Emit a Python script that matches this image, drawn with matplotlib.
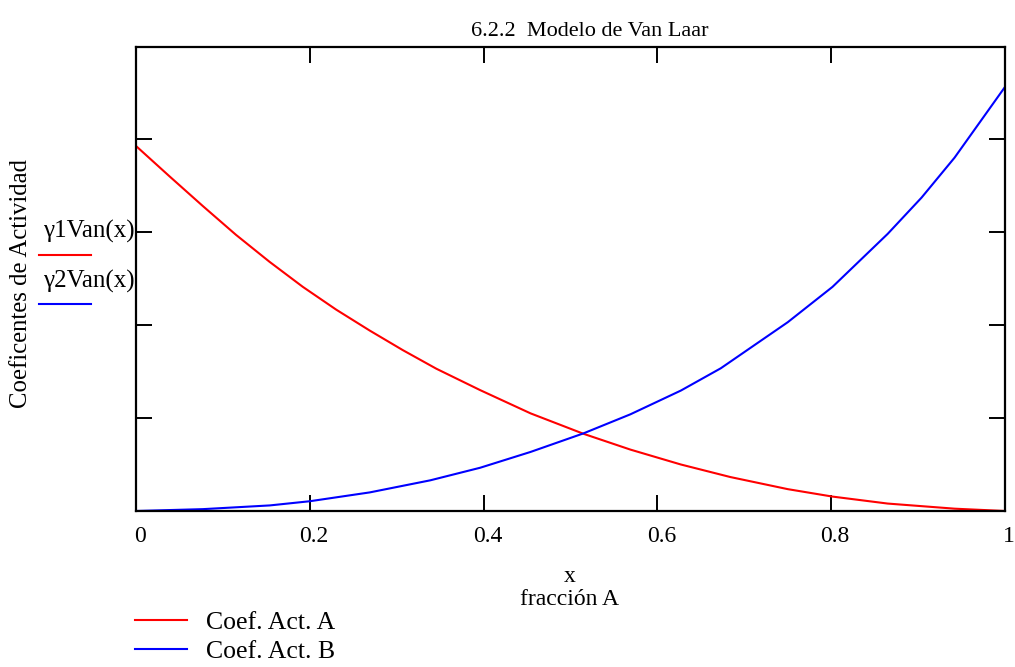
import matplotlib
matplotlib.use("Agg")
import matplotlib.pyplot as plt
import matplotlib.transforms as mtransforms
from matplotlib.lines import Line2D

# Curvas (coeficientes de actividad, modelo de Van Laar)
X_A = [0, 0.0384, 0.0768, 0.115, 0.1536, 0.192, 0.2304, 0.269, 0.307, 0.3456,
       0.396, 0.454, 0.515, 0.569, 0.627, 0.684, 0.75, 0.8015, 0.865, 0.942, 1.0]
GAMMA_A = [4.925, 4.60, 4.28, 3.97, 3.68, 3.41, 3.165, 2.94, 2.73, 2.53,
           2.30, 2.05, 1.83, 1.66, 1.50, 1.365, 1.235, 1.155, 1.08, 1.025, 1.0]

X_B = [0, 0.077, 0.154, 0.2, 0.269, 0.3387, 0.396, 0.454, 0.515, 0.569,
       0.627, 0.673, 0.75, 0.8015, 0.865, 0.904, 0.942, 1.0]
GAMMA_B = [1.0, 1.02, 1.06, 1.105, 1.20, 1.33, 1.465, 1.635, 1.835, 2.04,
           2.295, 2.535, 3.03, 3.41, 3.98, 4.37, 4.80, 5.56]

X_TICKS = [0, 0.2, 0.4, 0.6, 0.8, 1]
X_TICK_LABELS = ["0", "0.2", "0.4", "0.6", "0.8", "1"]
Y_TICKS = [2, 3, 4, 5]

plt.rcParams['font.family'] = ['Liberation Serif', 'DejaVu Serif']

W, H = 1015, 667
fig = plt.figure(figsize=(W / 100, H / 100), dpi=100)
ax = fig.add_axes([136 / W, 156 / H, 869 / W, 464 / H])

ax.plot(X_A, GAMMA_A, color=(1, 0, 0), lw=1.5, label="Coef. Act. A")
ax.plot(X_B, GAMMA_B, color=(0, 0, 1), lw=1.5, label="Coef. Act. B")

ax.set_xlim(0, 1)
ax.set_ylim(1, 1 + 464 / 93)
ax.set_xticks(X_TICKS)
ax.set_xticklabels(X_TICK_LABELS, fontsize=17)
ax.set_yticks(Y_TICKS)
ax.set_yticklabels([])
ax.tick_params(direction='in', length=11.5, width=1.4, top=True, right=True, pad=11)
for s in ax.spines.values():
    s.set_linewidth(1.6)

# desplazar las etiquetas un poco a la derecha, como en el original
off = mtransforms.ScaledTranslation(4 / 100, 0, fig.dpi_scale_trans)
for lab in ax.get_xticklabels():
    lab.set_transform(lab.get_transform() + off)

fig.text(590 / W, 1 - 32 / H, "6.2.2  Modelo de Van Laar", ha='center', va='center', fontsize=16)
fig.text(570 / W, 1 - 582 / H, "x", ha='center', va='baseline', fontsize=17)
fig.text(570 / W, 1 - 605 / H, "fracción A", ha='center', va='baseline', fontsize=17)
fig.text(21 / W, 1 - 283 / H, "Coeficentes de Actividad", rotation=90,
         ha='center', va='center', fontsize=17.8)

# etiquetas de las curvas junto al eje y
fig.text(135 / W, 1 - 231 / H, "γ1Van(x)", ha='right', va='center', fontsize=18)
fig.text(135 / W, 1 - 281 / H, "γ2Van(x)", ha='right', va='center', fontsize=18)
fig.add_artist(Line2D([39 / W, 91 / W], [1 - 255 / H, 1 - 255 / H],
                      transform=fig.transFigure, color=(1, 0, 0), lw=1.5))
fig.add_artist(Line2D([39 / W, 91 / W], [1 - 304 / H, 1 - 304 / H],
                      transform=fig.transFigure, color=(0, 0, 1), lw=1.5))

fig.legend(loc='upper left', bbox_to_anchor=(135 / W, 1 - 611 / H), frameon=False,
           fontsize=18.5, handlelength=2.02, handletextpad=0.74, labelspacing=0.23,
           borderpad=0, borderaxespad=0)

fig.savefig("out.png", dpi=100)
